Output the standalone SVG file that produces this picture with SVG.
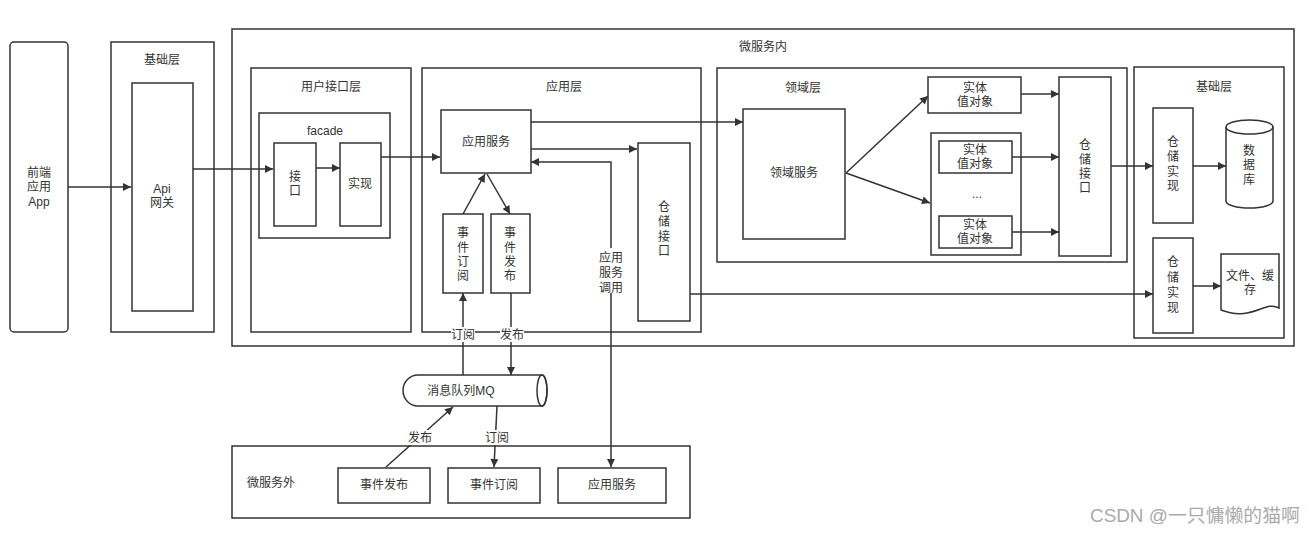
<svg xmlns="http://www.w3.org/2000/svg" width="1316" height="533" viewBox="0 0 1316 533">
<defs>
<marker id="arr" viewBox="0 0 10 10" refX="10" refY="5" markerWidth="10" markerHeight="8" markerUnits="userSpaceOnUse" orient="auto-start-reverse"><path d="M0,0 L10,5 L0,10 z" fill="#333"/></marker>
</defs>
<style>
.b{fill:#fff;stroke:#333;stroke-width:1.5}
.t{font-family:"Liberation Sans","Noto Sans CJK SC",sans-serif;font-size:12px;fill:#333;text-anchor:middle}
.c{fill:none;stroke:#333;stroke-width:1.5;marker-end:url(#arr)}
.n{fill:none;stroke:#333;stroke-width:1.5}
.lb{fill:#fff;stroke:none}
</style>
<rect width="1316" height="533" fill="#fff"/>

<g id="frontend">
<rect class="b" x="10" y="42" width="58" height="290" rx="4"/>
<text class="t" x="39" y="177">前端</text>
<text class="t" x="39" y="191">应用</text>
<text class="t" x="39" y="206">App</text>
</g>

<g id="infra-left">
<rect class="b" x="111" y="42" width="103" height="290"/>
<text class="t" x="162" y="64">基础层</text>
<rect class="b" x="132" y="83" width="61" height="228"/>
<text class="t" x="162" y="193">Api</text>
<text class="t" x="162" y="207">网关</text>
</g>

<g id="ms-inner">
<rect class="b" x="232" y="29" width="1062" height="317"/>
<text class="t" x="763" y="51">微服务内</text>
</g>

<g id="ui-layer">
<rect class="b" x="251" y="68" width="160" height="264"/>
<text class="t" x="331" y="91">用户接口层</text>
<rect class="b" x="259" y="113" width="131" height="125"/>
<text class="t" x="325" y="135">facade</text>
<rect class="b" x="274" y="143" width="42" height="83"/>
<text class="t" x="295" y="181">接</text>
<text class="t" x="295" y="195">口</text>
<rect class="b" x="340" y="143" width="41" height="83"/>
<text class="t" x="360" y="188">实现</text>
</g>

<g id="app-layer">
<rect class="b" x="422" y="68" width="279" height="264"/>
<text class="t" x="564" y="91">应用层</text>
<rect class="b" x="441" y="110" width="90" height="63"/>
<text class="t" x="486" y="146">应用服务</text>
<rect class="b" x="443" y="214" width="40" height="79"/>
<text class="t" x="463" y="237">事</text>
<text class="t" x="463" y="252">件</text>
<text class="t" x="463" y="266">订</text>
<text class="t" x="463" y="280">阅</text>
<rect class="b" x="491" y="214" width="39" height="79"/>
<text class="t" x="510" y="237">事</text>
<text class="t" x="510" y="252">件</text>
<text class="t" x="510" y="266">发</text>
<text class="t" x="510" y="280">布</text>
<rect class="b" x="638" y="143" width="52" height="178"/>
<text class="t" x="664" y="211">仓</text>
<text class="t" x="664" y="226">储</text>
<text class="t" x="664" y="241">接</text>
<text class="t" x="664" y="255">口</text>
</g>

<g id="domain-layer">
<rect class="b" x="717" y="68" width="410" height="194"/>
<text class="t" x="803" y="92">领域层</text>
<rect class="b" x="743" y="109" width="102" height="130"/>
<text class="t" x="794" y="177">领域服务</text>
<rect class="b" x="928" y="77" width="93" height="36"/>
<text class="t" x="975" y="92">实体</text>
<text class="t" x="975" y="106">值对象</text>
<rect class="b" x="931" y="133" width="90" height="122"/>
<rect class="b" x="939" y="141" width="73" height="32"/>
<text class="t" x="975" y="154">实体</text>
<text class="t" x="975" y="168">值对象</text>
<text class="t" x="977" y="198">...</text>
<rect class="b" x="939" y="216" width="73" height="32"/>
<text class="t" x="975" y="229">实体</text>
<text class="t" x="975" y="243">值对象</text>
<rect class="b" x="1059" y="77" width="52" height="179"/>
<text class="t" x="1085" y="149">仓</text>
<text class="t" x="1085" y="164">储</text>
<text class="t" x="1085" y="178">接</text>
<text class="t" x="1085" y="192">口</text>
</g>

<g id="infra-right">
<rect class="b" x="1134" y="67" width="150" height="271"/>
<text class="t" x="1214" y="91">基础层</text>
<rect class="b" x="1153" y="108" width="40" height="115"/>
<text class="t" x="1173" y="146">仓</text>
<text class="t" x="1173" y="161">储</text>
<text class="t" x="1173" y="176">实</text>
<text class="t" x="1173" y="190">现</text>
<path class="b" d="M1226,127 A23.5,7 0 0 1 1273,127 V201 A23.5,7 0 0 1 1226,201 Z"/>
<path class="n" d="M1226,127 A23.5,7 0 0 0 1273,127"/>
<text class="t" x="1249" y="155">数</text>
<text class="t" x="1249" y="169">据</text>
<text class="t" x="1249" y="184">库</text>
<rect class="b" x="1153" y="238" width="40" height="95"/>
<text class="t" x="1173" y="266">仓</text>
<text class="t" x="1173" y="282">储</text>
<text class="t" x="1173" y="297">实</text>
<text class="t" x="1173" y="312">现</text>
<path class="b" d="M1221,254 H1279 V308 C1265,300 1252,322 1221,310 Z"/>
<text class="t" x="1250" y="280">文件、缓</text>
<text class="t" x="1250" y="294">存</text>
</g>

<g id="mq">
<path class="b" d="M418,375 H542 A5,15.5 0 0 1 542,406 H418 A15,15.5 0 0 1 418,375 Z"/>
<ellipse class="n" cx="542" cy="390.5" rx="5" ry="15.5"/>
<text class="t" x="461" y="395">消息队列MQ</text>
</g>

<g id="ms-outer">
<rect class="b" x="232" y="446" width="458" height="72"/>
<text class="t" x="271" y="487">微服务外</text>
<rect class="b" x="338" y="468" width="92" height="35"/>
<text class="t" x="384" y="489">事件发布</text>
<rect class="b" x="448" y="468" width="92" height="35"/>
<text class="t" x="494" y="489">事件订阅</text>
<rect class="b" x="558" y="468" width="108" height="35"/>
<text class="t" x="612" y="489">应用服务</text>
</g>

<g id="connectors">
<path class="c" d="M68,187 H131"/>
<path class="c" d="M193,169 H273"/>
<path class="c" d="M316,168 H340"/>
<path class="c" d="M381,157 H440"/>
<path class="c" d="M531,122 H743"/>
<path class="c" d="M531,149 H637"/>
<path class="c" d="M463,214 L485,174"/>
<path class="c" d="M487,174 L510,214"/>
<path class="c" d="M463,375 V293"/>
<path class="c" d="M511,293 V375"/>
<path class="c" d="M690,294 H1153"/>
<path class="c" style="marker-start:url(#arr)" d="M531,162 H611 V467"/>
<path class="c" d="M846,173 L928,96"/>
<path class="c" d="M846,173 L930,203"/>
<path class="c" d="M1021,94 H1059"/>
<path class="c" d="M1012,157 H1059"/>
<path class="c" d="M1012,232 H1059"/>
<path class="c" d="M1111,166 H1153"/>
<path class="c" d="M1193,166 H1226"/>
<path class="c" d="M1193,286 H1221"/>
<path class="c" d="M386,467 L453,407"/>
<path class="c" d="M497,406 L494,467"/>
<rect class="lb" x="451" y="327" width="24" height="15"/>
<text class="t" x="463" y="339">订阅</text>
<rect class="lb" x="500" y="327" width="24" height="15"/>
<text class="t" x="512" y="339">发布</text>
<rect class="lb" x="598" y="248" width="26" height="45"/>
<text class="t" x="611" y="262">应用</text>
<text class="t" x="611" y="277">服务</text>
<text class="t" x="611" y="292">调用</text>
<rect class="lb" x="407" y="430" width="26" height="15"/>
<text class="t" x="420" y="442">发布</text>
<rect class="lb" x="485" y="430" width="26" height="15"/>
<text class="t" x="497" y="442">订阅</text>
</g>

<text x="1090" y="522" textLength="210" lengthAdjust="spacingAndGlyphs" style="font-family:'Liberation Sans','Noto Sans CJK SC',sans-serif;font-size:18px;fill:#aaa">CSDN @一只慵懒的猫啊</text>
</svg>
